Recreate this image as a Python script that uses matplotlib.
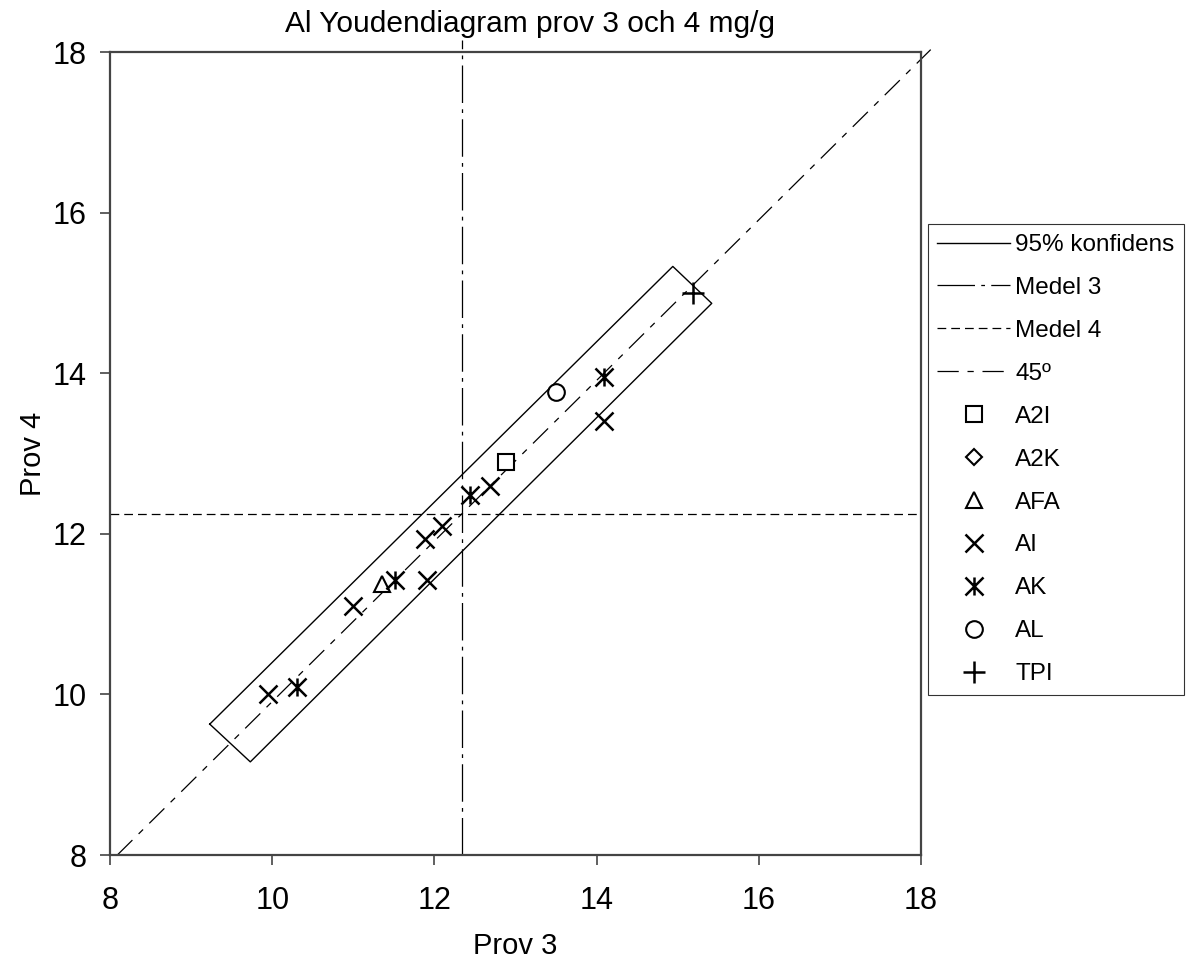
import matplotlib.pyplot as plt
from matplotlib.path import Path

plt.rcParams['font.family'] = ['Liberation Sans', 'DejaVu Sans']

# lab results, prov 3 (x) and prov 4 (y)
a2i_x = [12.88]
a2i_y = [12.89]
a2k_x = []
a2k_y = []
afa_x = [11.35]
afa_y = [11.38]
ai_x = [9.95, 11.0, 11.91, 11.88, 12.09, 12.69, 14.09]
ai_y = [10.0, 11.1, 11.42, 11.93, 12.10, 12.60, 13.40]
ak_x = [10.31, 11.51, 12.44, 14.09]
ak_y = [10.09, 11.42, 12.48, 13.95]
al_x = [13.50]
al_y = [13.76]
tpi_x = [15.19]
tpi_y = [15.0]

medel3 = 12.34
medel4 = 12.25

# corners of the 95% box (closed)
conf_x = [9.23, 14.94, 15.42, 9.73, 9.23]
conf_y = [9.63, 15.33, 14.87, 9.16, 9.63]

# asterisk marker: an x with a vertical bar through it
ak_marker = Path([(-1, -1), (1, 1), (-1, 1), (1, -1), (0, -1), (0, 1)],
                 [Path.MOVETO, Path.LINETO, Path.MOVETO, Path.LINETO, Path.MOVETO, Path.LINETO])

fig = plt.figure(figsize=(11.97, 9.67), dpi=100)
ax = fig.add_axes([0.0919, 0.1158, 0.6775, 0.8304])

ax.plot(conf_x, conf_y, color='black', lw=1.0, label='95% konfidens')
ax.plot([medel3, medel3], [8, 18.15], color='black', lw=0.9,
        dashes=(30, 5, 3, 5), label='Medel 3', clip_on=False)
ax.plot([8, 18], [medel4, medel4], color='black', lw=0.9,
        dashes=(7, 4), label='Medel 4')
d = medel4 - medel3
ax.plot([8 - d, 18.12], [8, 18.12 + d], color='black', lw=0.9,
        dashes=(17, 7, 5, 7), label='45º', clip_on=False)

ms = 12
ax.plot(a2i_x, a2i_y, ls='none', marker='s', ms=ms - 1, mfc='white', mec='black', mew=1.5, label='A2I')
ax.plot(a2k_x, a2k_y, ls='none', marker='D', ms=ms - 4, mfc='white', mec='black', mew=1.5, label='A2K')
ax.plot(afa_x, afa_y, ls='none', marker='^', ms=ms - 1, mfc='white', mec='black', mew=1.5, label='AFA')
ax.plot(ai_x, ai_y, ls='none', marker='x', ms=ms + 1, mec='black', mew=1.8, label='AI')
ax.plot(ak_x, ak_y, ls='none', marker=ak_marker, ms=ms + 1, mec='black', mew=1.8, label='AK')
ax.plot(al_x, al_y, ls='none', marker='o', ms=ms, mfc='white', mec='black', mew=1.5, label='AL')
ax.plot(tpi_x, tpi_y, ls='none', marker='+', ms=ms + 4, mec='black', mew=1.8, label='TPI')

ax.set_xlim(8, 18)
ax.set_ylim(8, 18)
ax.set_xticks(range(8, 19, 2))
ax.set_yticks(range(8, 19, 2))
ax.tick_params(direction='out', length=7, width=1.2, labelsize=22, color='#444444')
ax.tick_params(axis='x', pad=15)
ax.tick_params(axis='y', pad=10)
for s in ax.spines.values():
    s.set_color('#444444')
    s.set_linewidth(1.6)

ax.set_xlabel('Prov 3', fontsize=21, labelpad=12)
ax.set_ylabel('Prov 4', fontsize=21, labelpad=4)
fig.text(0.443, 1 - 24 / 967, 'Al Youdendiagram prov 3 och 4 mg/g',
         fontsize=21.5, ha='center', va='center')

leg = fig.legend(loc='upper left', bbox_to_anchor=(0.775, 0.768), fontsize=17.5,
                 frameon=True, fancybox=False, edgecolor='black', borderpad=0.4,
                 handlelength=3.0, handletextpad=0.2, labelspacing=0.86,
                 borderaxespad=0)
leg.get_frame().set_linewidth(0.8)

fig.savefig('out.png', dpi=100, facecolor='white')
